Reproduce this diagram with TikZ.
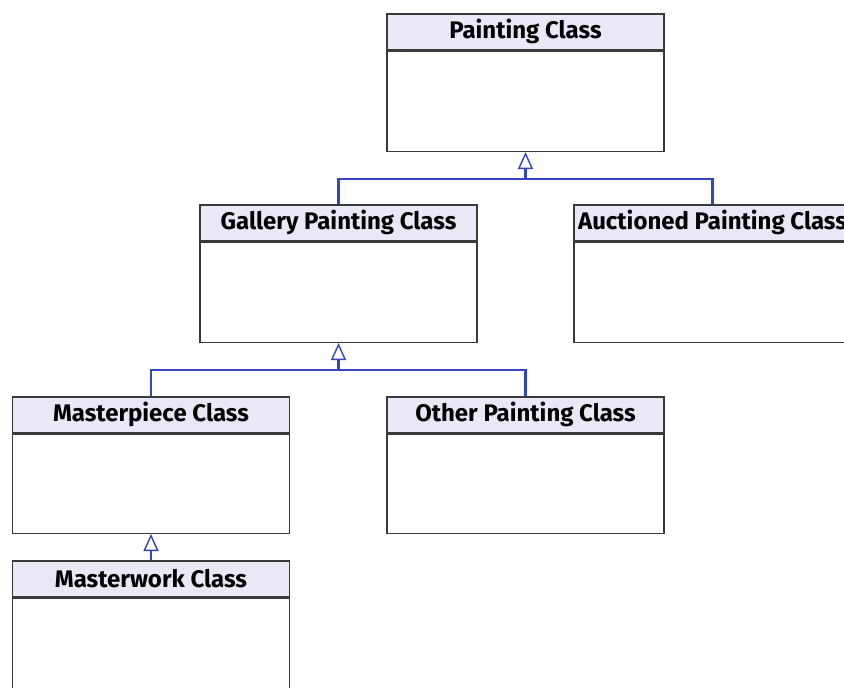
\documentclass[tikz,border=0pt]{standalone}
\usepackage{fontspec}
\setmainfont{Fira Sans}
\usetikzlibrary{arrows.meta,calc}
\definecolor{headfill}{HTML}{E9E8F7}
\definecolor{boxline}{HTML}{3A3A3A}
\definecolor{genblue}{HTML}{3545BE}
\begin{document}
\begin{tikzpicture}[x=1pt,y=-1pt,
  classhead/.style={draw=boxline, line width=1.5pt, fill=headfill, anchor=north,
    minimum width=277pt, minimum height=36pt, inner sep=0pt,
    font=\fontsize{24}{26}\selectfont\bfseries},
  classbody/.style={draw=boxline, line width=1.5pt, fill=white, anchor=north,
    minimum width=277pt, minimum height=#1, inner sep=0pt},
  classbody/.default=100pt,
  gen/.style={draw=genblue, line width=2.2pt},
  genarrow/.style={gen, -{Triangle[open, length=17pt, width=15pt, line width=1.4pt, fill=white]}}
]
\useasboundingbox (0,0) rectangle (844,688);
\clip (0,0) rectangle (844,688);

% top level
\node[classhead] (paintH) at (525.5,13) {Painting Class};
\node[classbody] (paintB) at (paintH.south) {};

% second level
\node[classhead] (galleryH) at (338.5,204) {Gallery Painting Class};
\node[classbody] (galleryB) at (galleryH.south) {};
\node[classhead] (auctH) at (712.5,204) {Auctioned Painting Class};
\node[classbody] (auctB) at (auctH.south) {};

% third level
\node[classhead] (mpieceH) at (151,396) {Masterpiece Class};
\node[classbody=99pt] (mpieceB) at (mpieceH.south) {};
\node[classhead] (otherH) at (525.5,396) {Other Painting Class};
\node[classbody=99pt] (otherB) at (otherH.south) {};

% fourth level
\node[classhead] (mworkH) at (151,560) {Masterwork Class};
\node[classbody=120pt] (mworkB) at (mworkH.south) {};

% generalisation connectors
\coordinate (j1) at ($(paintB.south)+(0,27)$);
\draw[gen] (galleryH.north) |- (j1) -| (auctH.north);
\draw[genarrow] (j1) -- (paintB.south);

\coordinate (j2) at ($(galleryB.south)+(0,27)$);
\draw[gen] (mpieceH.north) |- (j2) -| (otherH.north);
\draw[genarrow] (j2) -- (galleryB.south);

\draw[genarrow] (mworkH.north) -- (mpieceB.south);
\end{tikzpicture}
\end{document}
